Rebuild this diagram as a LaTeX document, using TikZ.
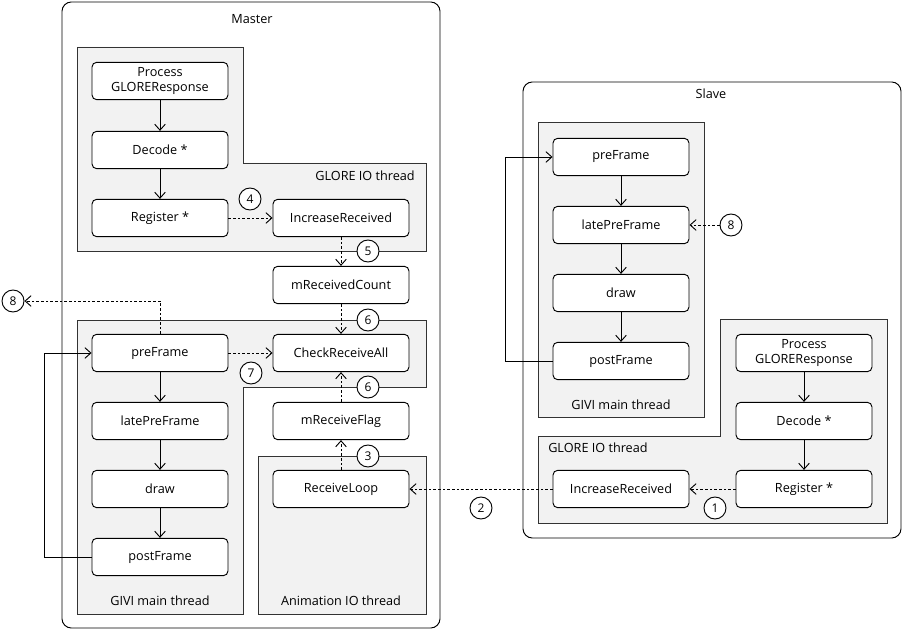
\documentclass[tikz,border=0pt]{standalone}
\usepackage{fontspec}
\setmainfont{Open Sans}
\usetikzlibrary{arrows.meta}
\begin{document}
\begin{tikzpicture}[x=0.75pt,y=-0.75pt,
 box/.style={draw=black, fill=white, rounded corners=3.5pt, minimum width=102pt, minimum height=28pt, inner sep=0pt, align=center, font=\fontsize{9.5}{11}\selectfont, line width=0.7pt},
 num/.style={draw=black, fill=white, circle, minimum size=16.5pt, inner sep=0pt, font=\fontsize{9}{10}\selectfont, line width=0.7pt},
 thread/.style={draw=black!80, fill=black!5, line width=0.7pt},
 proc/.style={draw=black, rounded corners=7pt, fill=white, line width=0.7pt},
 flow/.style={-{Straight Barb[length=4.5pt,width=8pt]}, line width=0.7pt},
 msg/.style={flow, dash pattern=on 2pt off 1.5pt},
 lbl/.style={font=\fontsize{9.5}{11}\selectfont, inner sep=0pt}
]
\useasboundingbox (0,0) rectangle (903,631);

% ---------- Master ----------
\draw[proc] (62,2) rectangle (440,628);
\node[lbl] (mTitle) at (252,19) {Master};
\draw[thread] (77,47) -- (243,47) -- (243,163) -- (426,163) -- (426,251) -- (77,251) -- cycle;
\node[lbl, anchor=east] (mGloreT) at (415,176) {GLORE IO thread};
\draw[thread] (77,320) -- (426,320) -- (426,387) -- (243,387) -- (243,614) -- (77,614) -- cycle;
\node[lbl] (mGiviT) at (160,601) {GIVI main thread};
\draw[thread] (258,456) rectangle (426,614);
\node[lbl] (mAnimT) at (341,601) {Animation IO thread};

\node[box] (mProc) at (160,81) {Process\\GLOREResponse};
\node[box] (mDec) at (160,150) {Decode *};
\node[box] (mReg) at (160,218) {Register *};
\node[box] (mInc) at (341,218) {IncreaseReceived};
\node[box] (mCount) at (341,285) {mReceivedCount};
\node[box] (mPre) at (160,353) {preFrame};
\node[box] (mLate) at (160,421) {latePreFrame};
\node[box] (mDraw) at (160,489) {draw};
\node[box] (mPost) at (160,557) {postFrame};
\node[box] (mCheck) at (341,353) {CheckReceiveAll};
\node[box] (mFlag) at (341,421) {mReceiveFlag};
\node[box] (mLoop) at (341,489) {ReceiveLoop};

% ---------- Slave ----------
\draw[proc] (523,82) rectangle (901,538);
\node[lbl] (sTitle) at (711,94) {Slave};
\draw[thread] (538,122) rectangle (704,417);
\node[lbl] (sGiviT) at (621,405) {GIVI main thread};
\draw[thread] (538,436) -- (720,436) -- (720,319) -- (887,319) -- (887,523) -- (538,523) -- cycle;
\node[lbl, anchor=west] (sGloreT) at (548,448) {GLORE IO thread};

\node[box] (sPre) at (621,157) {preFrame};
\node[box] (sLate) at (621,225) {latePreFrame};
\node[box] (sDraw) at (621,293) {draw};
\node[box] (sPost) at (621,361) {postFrame};
\node[box] (sProc) at (804,353) {Process\\GLOREResponse};
\node[box] (sDec) at (804,421) {Decode *};
\node[box] (sReg) at (804,489) {Register *};
\node[box] (sInc) at (621,489) {IncreaseReceived};

% ---------- connectors ----------
\draw[flow] (mProc) -- (mDec);
\draw[flow] (mDec) -- (mReg);
\draw[msg] (mReg) -- (mInc);
\draw[msg] (mInc) -- (mCount);
\draw[msg] (mCount) -- (mCheck);
\draw[msg] (mFlag) -- (mCheck);
\draw[msg] (mLoop) -- (mFlag);
\draw[msg] (mPre) -- (mCheck);
\draw[flow] (mPre) -- (mLate);
\draw[flow] (mLate) -- (mDraw);
\draw[flow] (mDraw) -- (mPost);
\coordinate (mLoopL) at (44,557);
\draw[flow] (mPost.west) -- (mLoopL) |- (mPre.west);

\draw[flow] (sProc) -- (sDec);
\draw[flow] (sDec) -- (sReg);
\draw[msg] (sReg) -- (sInc);
\draw[msg] (sInc) -- (mLoop);
\draw[flow] (sPre) -- (sLate);
\draw[flow] (sLate) -- (sDraw);
\draw[flow] (sDraw) -- (sPost);
\coordinate (sLoopL) at (505,361);
\draw[flow] (sPost.west) -- (sLoopL) |- (sPre.west);

% ---------- numbered markers ----------
\node[num] (c1) at (715,508) {1};
\node[num] (c2) at (481,508) {2};
\node[num] (c3) at (368,456) {3};
\node[num] (c4) at (250,199) {4};
\node[num] (c5) at (368,251) {5};
\node[num] (c6a) at (368,320) {6};
\node[num] (c6b) at (368,387) {6};
\node[num] (c7) at (251,373) {7};
\node[num] (c8a) at (13,301) {8};
\node[num] (c8b) at (731,225) {8};

\draw[msg] (mPre.north) |- (c8a);
\draw[msg] (c8b) -- (sLate);
\end{tikzpicture}
\end{document}
